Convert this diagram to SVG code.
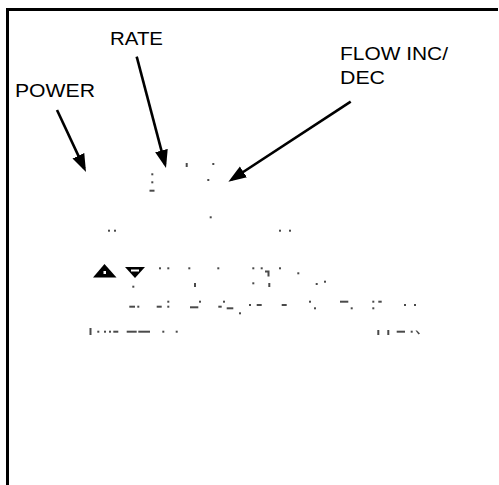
<svg xmlns="http://www.w3.org/2000/svg" width="499" height="485" viewBox="0 0 499 485">
<style>
.lbl{font-family:"Liberation Sans",Arial,sans-serif;font-size:18.5px;fill:#000}
.arr{stroke:#000;stroke-width:2.6;fill:none;marker-end:url(#ah)}
.d{fill:#4a4a4a}
</style>
<defs>
<marker id="ah" markerUnits="userSpaceOnUse" markerWidth="20" markerHeight="14" refX="14" refY="6.5" orient="auto">
<path d="M0,0 L18,6.5 L0,13 Z" fill="#000"/>
</marker>
</defs>
<rect width="499" height="485" fill="#fff"/>
<g id="frame">
<path d="M7.5,485 V9.5 H498" fill="none" stroke="#000" stroke-width="3"/>
</g>
<g id="power"><text class="lbl" x="15" y="97" textLength="80" lengthAdjust="spacingAndGlyphs">POWER</text></g>
<g id="rate"><text class="lbl" x="110" y="45" textLength="53" lengthAdjust="spacingAndGlyphs">RATE</text></g>
<g id="flow"><text class="lbl" x="340" y="60" textLength="108" lengthAdjust="spacingAndGlyphs">FLOW INC/</text><text class="lbl" x="340" y="83.5" textLength="45" lengthAdjust="spacingAndGlyphs">DEC</text></g>
<g id="connectors">
<path class="arr" d="M57,110 L84.3,168.4"/>
<path class="arr" d="M136.7,56.7 L165,164.1"/>
<path class="arr" d="M350.7,101.7 L231.7,179.5"/>
</g>
<g id="panel">
<polygon points="93,277.5 104.5,264 116.5,277.5" fill="#000"/>
<rect x="103.5" y="271" width="2.5" height="3" fill="#fff"/>
<polygon points="125,267 145,267 135,278" fill="#000"/>
<rect x="131" y="269.5" width="8" height="2" fill="#fff"/>
<g class="d">
<rect x="185.7" y="163" width="2" height="4"/><rect x="212.3" y="163" width="2" height="2"/>
<rect x="151.3" y="173.3" width="2" height="2"/><rect x="151.3" y="181.3" width="2" height="2"/>
<rect x="149.5" y="189.7" width="5" height="2"/><rect x="207.3" y="179" width="2" height="2"/>
<rect x="209.7" y="216.3" width="2" height="2"/>
<rect x="108" y="229.7" width="2" height="2"/><rect x="114" y="229.7" width="2" height="2"/>
<rect x="279" y="229.7" width="2" height="2"/><rect x="289" y="229.7" width="2" height="2"/>
<rect x="159" y="267.3" width="2" height="2"/><rect x="167.3" y="267.3" width="2" height="2"/>
<rect x="188.3" y="267.3" width="2" height="2"/><rect x="217.3" y="267.3" width="2" height="2"/>
<rect x="252.3" y="267.3" width="2" height="2"/><rect x="260.7" y="267.3" width="2" height="2"/>
<rect x="279" y="267.3" width="2" height="2"/>
<path d="M265,270.5 h4.5 v6 h-2 v-4 h-2.5 z"/>
<rect x="297.3" y="272.3" width="2" height="2"/><rect x="324" y="280.7" width="2" height="2"/>
<rect x="132.3" y="285.7" width="2" height="2"/><rect x="194" y="283" width="2" height="4"/>
<rect x="252.3" y="282.3" width="2" height="2"/><rect x="315.7" y="283" width="2" height="2"/>
<rect x="268.3" y="283" width="2" height="4"/>
<rect x="129.3" y="305.7" width="5.7" height="2"/><rect x="137.3" y="305.7" width="2" height="2"/>
<rect x="156.7" y="305.7" width="5" height="2"/><rect x="167.3" y="305.7" width="2" height="2"/><rect x="167.3" y="300.7" width="2" height="2"/>
<rect x="190" y="306.3" width="8.3" height="2"/><rect x="199" y="300.7" width="2" height="2"/>
<rect x="218.3" y="305.7" width="3.4" height="2"/><rect x="223" y="300.7" width="2" height="2"/><rect x="226.7" y="307.3" width="6.6" height="2"/>
<rect x="239" y="312.3" width="2" height="2"/>
<rect x="249" y="304" width="2" height="2"/><rect x="256.7" y="304" width="5" height="2"/>
<rect x="281.7" y="304" width="5" height="2"/>
<rect x="309" y="300.7" width="2" height="2"/><rect x="314" y="307.3" width="2" height="2"/>
<rect x="340" y="300.7" width="8.3" height="2"/><rect x="350.7" y="307.3" width="2" height="2"/>
<rect x="372.3" y="300.7" width="2" height="2"/><rect x="378.3" y="300.7" width="3.4" height="2"/><rect x="372.3" y="307.3" width="2" height="2"/>
<rect x="404" y="304" width="2" height="2"/><rect x="414" y="304" width="2" height="2"/>
<rect x="89.5" y="328" width="2" height="7"/><rect x="97.3" y="330.7" width="2" height="2"/>
<rect x="104" y="330.7" width="2" height="2"/><rect x="109" y="330.7" width="2" height="2"/>
<rect x="113.3" y="330.7" width="5" height="2"/><rect x="126.7" y="330.7" width="10" height="2"/><rect x="138.3" y="330.7" width="11.7" height="2"/>
<rect x="162.3" y="330.7" width="2" height="2"/><rect x="175.7" y="330.7" width="2" height="2"/>
<rect x="377.3" y="330" width="2" height="5"/><rect x="387.3" y="330" width="2" height="5"/>
<rect x="396.7" y="330.7" width="8.3" height="2"/><rect x="410.7" y="330.7" width="2" height="2"/>
<path d="M415.5,330.5 l1.5,0 l3,3 l-1.5,1 z"/>
</g>
</g>
</svg>
